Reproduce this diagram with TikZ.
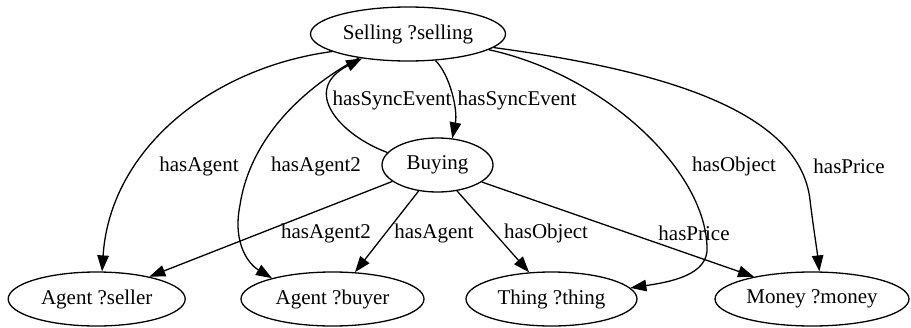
\documentclass[tikz,border=0pt]{standalone}
\usepackage{fontspec}
\setmainfont{Liberation Serif}
\usetikzlibrary{shapes.geometric,arrows.meta}
\tikzset{
  gnode/.style={draw, ellipse, line width=1.3pt, inner sep=0pt, minimum height=54pt},
  glabel/.style={inner sep=0pt},
  gedge/.style={line width=1.3pt, -{Triangle[length=16pt,width=11.5pt]}},
}
\begin{document}
\begin{tikzpicture}[x=1pt,y=-1pt,font=\fontsize{21}{25}\selectfont]
\useasboundingbox (0,0) rectangle (911,327);
% nodes
\node[gnode, minimum width=195pt] (sell)   at (408,34)    {Selling ?selling};
\node[gnode, minimum width=111pt] (buy)    at (437.5,165) {Buying};
\node[gnode, minimum width=177pt] (seller) at (96.7,299)  {Agent ?seller};
\node[gnode, minimum width=183pt] (buyer)  at (332.5,299) {Agent ?buyer};
\node[gnode, minimum width=171pt] (thing)  at (551.5,299) {Thing ?thing};
\node[gnode, minimum width=194pt] (money)  at (812,299)   {Money ?money};
% labels
\node[glabel] (l1) at (199,166) {hasAgent};
\node[glabel] (l2) at (316,166) {hasAgent2};
\node[glabel] (l3) at (392,100) {hasSyncEvent};
\node[glabel] (l4) at (517,100) {hasSyncEvent};
\node[glabel] (l5) at (734,166) {hasObject};
\node[glabel] (l6) at (849,166) {hasPrice};
\node[glabel] (l7) at (326,233) {hasAgent2};
\node[glabel] (l8) at (434,233) {hasAgent};
\node[glabel] (l9) at (546,233) {hasObject};
\node[glabel] (l10) at (694,233) {hasPrice};
% edges from Selling
\draw[gedge] (sell.193) .. controls (210,68) and (110,150) .. (seller.79);
\draw[gedge] (sell.206) .. controls (300,90) and (250,140) .. (240,205)
                         .. controls (232,245) and (250,265) .. (buyer.161);
\draw[gedge] (sell.316) .. controls (450,75) and (458,110) .. (buy.61);
\draw[gedge] (sell.349) .. controls (605,75) and (705,170) .. (707,247)
                         .. controls (709,275) and (670,282) .. (thing.8);
\draw[gedge] (sell.351) .. controls (660,70) and (800,110) .. (810,200)
                         .. controls (813,225) and (817,250) .. (money.75);
% edges from Buying
\draw[gedge] (buy.166) .. controls (340,135) and (300,90) .. (sell.208);
\draw[gedge] (buy.200) -- (seller.23);
\draw[gedge] (buy.234) -- (buyer.50);
\draw[gedge] (buy.307) -- (thing.130);
\draw[gedge] (buy.339) -- (money.159);
\end{tikzpicture}
\end{document}
